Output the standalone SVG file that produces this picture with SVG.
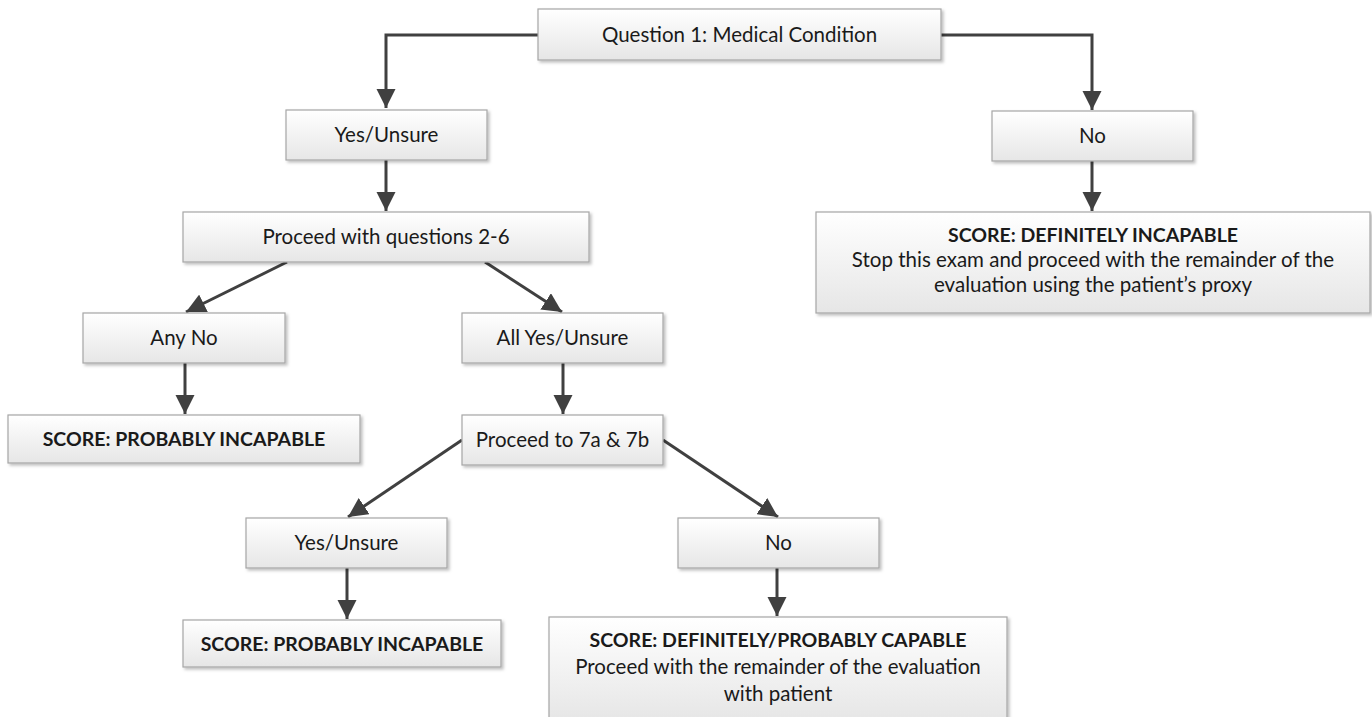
<svg xmlns="http://www.w3.org/2000/svg" width="1372" height="717" viewBox="0 0 1372 717">
<defs>
<linearGradient id="g" x1="0" y1="0" x2="0" y2="1">
<stop offset="0" stop-color="#ffffff"/>
<stop offset="1" stop-color="#e6e6e6"/>
</linearGradient>
<filter id="sh" x="-5%" y="-10%" width="110%" height="130%">
<feDropShadow dx="2" dy="2" stdDeviation="1.5" flood-color="#000" flood-opacity="0.25"/>
</filter>
<marker id="ah" viewBox="0 0 10 10" refX="10" refY="5" markerWidth="6.5" markerHeight="6.5" orient="auto" markerUnits="strokeWidth">
<path d="M0,0 L10,5 L0,10 z" fill="#404040"/>
</marker>
</defs>
<style>
.b{fill:url(#g);stroke:#a6a6a6;stroke-width:1.2;filter:url(#sh)}
.t{font-family:Lato,"Liberation Sans",sans-serif;font-size:20.5px;fill:#1a1a1a;text-anchor:middle}
.bd{font-weight:bold;font-size:19.5px}
.c{fill:none;stroke:#404040;stroke-width:3;marker-end:url(#ah)}
</style>
<rect width="1372" height="717" fill="#fff"/>
<g id="connectors">
<path class="c" d="M538,35 H386 V108"/>
<path class="c" d="M941,35 H1092 V110"/>
<path class="c" d="M386,160 V211"/>
<path class="c" d="M1092,161 V211"/>
<path class="c" d="M287,262 L186,312"/>
<path class="c" d="M485,262 L562,312"/>
<path class="c" d="M185,363 V414"/>
<path class="c" d="M563,363 V414"/>
<path class="c" d="M462,440 L348,517"/>
<path class="c" d="M663,440 L778,517"/>
<path class="c" d="M347,568 V619"/>
<path class="c" d="M777,568 V616"/>
</g>
<g id="q1">
<rect class="b" x="538" y="9" width="403" height="51"/>
<text class="t" x="739.5" y="42">Question 1: Medical Condition</text>
</g>
<g id="yes1">
<rect class="b" x="286" y="110" width="201" height="50"/>
<text class="t" x="386.5" y="142">Yes/Unsure</text>
</g>
<g id="no1">
<rect class="b" x="992" y="111" width="201" height="50"/>
<text class="t" x="1092.5" y="143">No</text>
</g>
<g id="proceed26">
<rect class="b" x="183" y="212" width="406" height="50"/>
<text class="t" x="386" y="244">Proceed with questions 2-6</text>
</g>
<g id="incapable">
<rect class="b" x="816" y="212" width="554" height="101"/>
<text class="t bd" x="1093" y="242">SCORE: DEFINITELY INCAPABLE</text>
<text class="t" x="1093" y="267">Stop this exam and proceed with the remainder of the</text>
<text class="t" x="1093" y="292">evaluation using the patient’s proxy</text>
</g>
<g id="anyno">
<rect class="b" x="83" y="313" width="202" height="50"/>
<text class="t" x="184" y="345">Any No</text>
</g>
<g id="allyes">
<rect class="b" x="462" y="313" width="201" height="50"/>
<text class="t" x="562.5" y="345">All Yes/Unsure</text>
</g>
<g id="prob1">
<rect class="b" x="8" y="415" width="352" height="48"/>
<text class="t bd" x="184" y="446">SCORE: PROBABLY INCAPABLE</text>
</g>
<g id="proceed7">
<rect class="b" x="462" y="415" width="201" height="50"/>
<text class="t" x="562.5" y="447">Proceed to 7a &amp; 7b</text>
</g>
<g id="yes2">
<rect class="b" x="246" y="518" width="201" height="50"/>
<text class="t" x="346.5" y="550">Yes/Unsure</text>
</g>
<g id="no2">
<rect class="b" x="678" y="518" width="201" height="50"/>
<text class="t" x="778.5" y="550">No</text>
</g>
<g id="prob2">
<rect class="b" x="183" y="620" width="318" height="47"/>
<text class="t bd" x="342" y="651">SCORE: PROBABLY INCAPABLE</text>
</g>
<g id="capable">
<rect class="b" x="549" y="617" width="458" height="104"/>
<text class="t bd" x="778" y="647">SCORE: DEFINITELY/PROBABLY CAPABLE</text>
<text class="t" x="778" y="674">Proceed with the remainder of the evaluation</text>
<text class="t" x="778" y="701">with patient</text>
</g>
</svg>
